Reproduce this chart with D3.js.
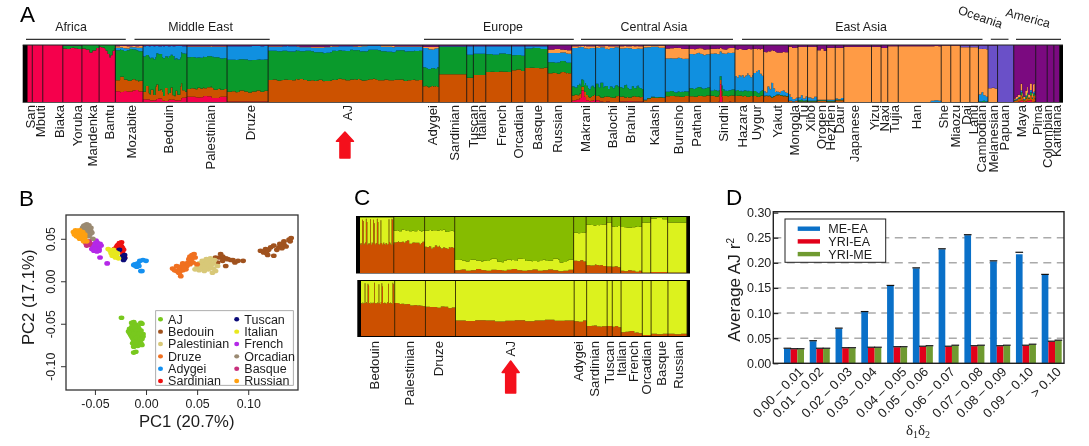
<!DOCTYPE html>
<html>
<head>
<meta charset="utf-8">
<script src="https://cdn.jsdelivr.net/npm/d3@7"></script>
<style>
html, body { margin: 0; padding: 0; background: #fff; }
svg { display: block; filter: blur(0.35px); }
text { font-family: "Liberation Sans", Arial, sans-serif; fill: #1c1c1c; }
</style>
</head>
<body>
<div id="chart"></div>
<script>
// ---------- panel A data: populations, sample counts, ancestry % per component ----------
var popsA = ["San","Mbuti","Biaka","Yoruba","Mandenka","Bantu","Mozabite",
    "Bedouin","Palestinian","Druze","AJ",
    "Adygei","Sardinian","Tuscan","Italian","French","Orcadian","Basque","Russian",
    "Makrani","Balochi","Brahui","Kalash","Burusho","Pathan","Sindhi",
    "Hazara","Uygur","Yakut","Mongola","Tu","Xibo","Oroqen","Hezhen","Daur","Japanese","Yizu","Naxi","Tujia","Han","She","Miaozu","Dai","Lahu","Cambodian",
    "Melanesian","Papuan","Maya","Pima","Colombian","Karitiana"];
var samplesA = [5,11,21,20,18,17,29, 46,42,43,162, 17,29,7,13,27,14,24,25,
    25,25,25,23,25,22,26, 19,11,26,10,10,10,10,9,9,29,10,7,11,45,10,10,10,9,10, 10,17,23,12,7,6];
var regionsA = ["Africa","Middle East","Europe","Central Asia","East Asia","Oceania","America"];

// one entry per population; a list holds values read across that population
var redA = [100,100,100,[95,94,96,95],[94,91,92,95,90],[97,96,95,93,90,84,78,82,90,94],[19,20,18,21,19],
    [5,3,6,2,4,3,7],[9,8,10,7,9],1, 0,
    0,0,0,0,0,0,0,0,
    [2,3,4,7,22,9,3,1,2,3],[3,1,0,1,0,0,0],1,0,0,0,[0,0,0,0,0,1,44,10,0,0,0,0,1,0,0,0],
    0,0,0,0,0,0,0,0,0,0,0,0,0,0,0,0,0,0,0,
    0,0, [0,0,1,2,0,1,2,3,0,1],0,0,0];
var brownA = [0,0,0,0,0,0,[19,30,21,18,20,17,19],
    [13,27,10,20,9,28,13,16,8,25,11,23,7,19,10,29,12,9],[13,15,14,17,15,13,16,18,14,15,12,14],[17,18,16,19,17,16,18,20,17,19],
    [38,39,37,38,40,38,37,39,41,38,37,39,38,40,37,38,39,38,40,39,37,38,39,41,38,37,38,39,37,38,40,38,39,37,38,36,38,39,37,38],
    [27,26,28,26,27],48,42,47,[52,53,52,54,53,52],[55,56,55],[59,60,59,58,60],[50,51,50,52,51,50],
    [9,8,7,9,6,8],[8,7,9,8,7,10],[8,7,6,9,8,7],[3,6,8,7,8,7],[10,11,10,9,11],[10,9,11,10,12],[10,9,11,10,9,11],
    [10,11,10,9,10],[10,9,10],[10,11,9,10,12,11,10,9],[2,1,2],1,1,2,1,3,0,0,0,0,0,0,0,0,0,0,
    0,0, [2,3,5,4,10,6,3,5,8,4,9,5,10,4],0,0,0];
var greenA = [0,0,0,[5,6,4,5,6],[6,8,14,10,5],[3,4,5,7,10,16,22,18,10,6],[53,52,54,53],
    [62,60,63,61,64,60],[54,53,55,54],[56,55,57,56],
    [50,51,49,50,52,50,51,49,50,52,49,51,50,49,51,50],
    [32,30,33,31,29,35],48,40,37,[31,30,32,31],[26,25,27],[34,35,33],[19,18,20,19,18],
    [15,12,18,14,11,16,13,17,12],[22,14,26,16,19,13,18,15,20,16],[16,14,22,15,13,18,14,20,15,13],1,[8,9,7,8,9,8],[14,13,15,16,13,14,15],[8,10,9,11,8,9,10],
    [9,8,9,10,8],[8,7,8],1,0,[2,3,1,2],1,1,1,1,0,0,0,0,0,0,0,0,0,[1,2,1],
    0,0, [1,1,1,2,5,1,1,3,4,1,5,2,4,1],0,0,0];
var blueA = [0,0,0,0,0,0,[4,5,3,4,6],
    [18,22,14,20,16,24,12],[18,19,17,18,20],[24,23,25,24],
    [7,8,9,7,6,8,10,7,8,6,9,7,8,9,6,8,7],
    [33,36,32,34],1,15,13,[14,15,13,14],[16,15,17],[4,3,5],[16,17,15,16],
    [65,66,62,64,63],[65,63,67,64,66],[66,64,67,65],[88,87,89],[59,60,58,59],[60,58,61,59,62],[60,62,59,61],
    [25,20,28,24,30,22,26,33,27,23,29],[30,35,42,28,22],[8,5,18,12,30,14,6,5,4,7,9,6,5],[12,6,4,3,5],[5,8,4,7],[6,4,7],1,2,[2,1,3],0,0,0,0,[0,0,0,0,0,0,0,0,0,2,3,2],0,0,0,0,[12,16,10,8],
    0,0, [1,1,1,1,3,1,1,2,2,1,4,1,3,1],0,0,0];
var orangeA = [0,0,0,0,0,0,[3,4,2,3],
    0,1,0, [1,0,1,2,1,0,1,0,2,1,1],
    [2,5,3],0,0,0,0,0,0,[6,7,5,6],
    [3,2,4,3],[3,2,5,3,2],[4,3,5,4],[3,2,4],[18,19,17,18],[9,8,10,9],[8,9,7,8],
    [45,47,44,46],[40,38,41],[68,69,67],[82,83,82],[88,87,89],[88,89,88],[87,88,86],[92,91,92],[89,90,89],[97,98,97],[95,96,95],[93,94,92],[98,97,98],[97,98,97],[98,98,97],[98,97,98],[96,97,96],[96,95,96],[80,78,81,80],
    [24,25,23],0, [2,4,6,3,12,5,4,8,10,5,12,7,13,6],0,0,0];
var slateA = [0,0,0,0,0,0,0,
    0,0,0, 0,
    0,0,0,0,0,0,0,0,
    0,0,0,0,0,0,0,
    0,0,0,0,0,0,0,0,0,0,0,0,0,0,0,0,3,3,6,
    74,100, 0,0,0,0];
var purpleA = [0,0,0,1,0,0,2,
    2,2,2, [2,3,2,1,2],
    3,2,2,2,2,2,2,[8,7,8,9],
    2,2,2,1,[6,5,7],[7,6,8],[6,7,5],
    [7,8,7],[6,7,6],[12,11,13,12],[3,5,4],3,3,[9,6,10],5,5,3,3,5,2,2,1,1,1,1,1,
    1,0, [90,88,86,80,68,84,90,76,72,86,68,82,66,88],100,100,100];

// ---------- panel B data: PC1, PC2 of each individual ----------
var pcNames = ["AJ","Bedouin","Palestinian","Druze","Adygei","Sardinian","Tuscan","Italian","French","Orcadian","Basque","Russian"];
var pcAJ = [[-0.024,-0.043],[-0.005,-0.049],[-0.004,-0.050],[-0.014,-0.049],[-0.012,-0.048],[-0.012,-0.052],[-0.010,-0.051],[-0.008,-0.053],[-0.014,-0.054],[-0.016,-0.056],[-0.013,-0.057],[-0.010,-0.056],[-0.007,-0.056],[-0.005,-0.058],[-0.017,-0.059],[-0.014,-0.060],[-0.011,-0.060],[-0.008,-0.060],[-0.005,-0.061],[-0.003,-0.062],[-0.015,-0.063],[-0.012,-0.064],[-0.009,-0.063],[-0.006,-0.064],[-0.003,-0.065],[-0.013,-0.067],[-0.010,-0.067],[-0.007,-0.067],[-0.004,-0.068],[-0.012,-0.070],[-0.009,-0.070],[-0.006,-0.071],[-0.013,-0.073],[-0.010,-0.073],[-0.007,-0.074],[-0.011,-0.076],[-0.008,-0.076],[-0.004,-0.075],[-0.010,-0.083],[-0.012,-0.084],[-0.016,-0.061],[-0.014,-0.065],[-0.011,-0.054],[-0.009,-0.058],[-0.006,-0.059],[-0.011,-0.069],[-0.008,-0.072],[-0.012,-0.062],[-0.007,-0.062],[-0.009,-0.066],[-0.006,-0.069],[-0.005,-0.073],[-0.012,-0.077]];
var pcBedouin = [[0.112,0.036],[0.115,0.034],[0.117,0.038],[0.120,0.037],[0.118,0.033],[0.122,0.040],[0.125,0.042],[0.128,0.037],[0.130,0.040],[0.131,0.044],[0.133,0.039],[0.135,0.043],[0.137,0.041],[0.135,0.047],[0.140,0.049],[0.142,0.051],[0.141,0.047],[0.125,0.030],[0.119,0.031],[0.072,0.028],[0.075,0.029],[0.073,0.032],[0.068,0.028],[0.078,0.027],[0.080,0.026],[0.083,0.025],[0.087,0.022],[0.090,0.024],[0.095,0.024],[0.085,0.025],[0.078,0.018],[0.070,0.022],[0.075,0.024]];
var pcPalestinian = [[0.048,0.014],[0.050,0.017],[0.052,0.013],[0.054,0.020],[0.056,0.016],[0.058,0.022],[0.060,0.018],[0.062,0.024],[0.064,0.020],[0.066,0.015],[0.063,0.027],[0.059,0.026],[0.055,0.024],[0.052,0.021],[0.068,0.012],[0.070,0.018],[0.065,0.010],[0.061,0.014],[0.057,0.012],[0.067,0.025],[0.056,0.019],[0.060,0.021],[0.063,0.018],[0.053,0.017],[0.058,0.015],[0.050,0.020],[0.066,0.021]];
var pcDruze = [[0.026,0.015],[0.028,0.013],[0.030,0.012],[0.032,0.010],[0.034,0.006],[0.030,0.018],[0.033,0.015],[0.035,0.018],[0.036,0.013],[0.038,0.020],[0.040,0.018],[0.041,0.022],[0.043,0.020],[0.044,0.024],[0.045,0.027],[0.047,0.032],[0.048,0.028],[0.046,0.022],[0.039,0.014],[0.042,0.026],[0.050,0.020],[0.036,0.021],[0.033,0.011],[0.037,0.016],[0.045,0.031],[0.043,0.029]];
var pcAdygei = [[-0.012,0.019],[-0.010,0.018],[-0.008,0.021],[-0.007,0.018],[-0.006,0.024],[-0.003,0.025],[-0.005,0.012],[-0.004,0.012],[-0.009,0.017],[-0.011,0.020],[0.000,0.024]];
var pcSardinian = [[-0.029,0.040],[-0.031,0.038],[-0.028,0.042],[-0.027,0.043],[-0.025,0.044],[-0.027,0.039],[-0.025,0.037],[-0.024,0.041],[-0.022,0.037],[-0.023,0.033],[-0.022,0.030],[-0.021,0.028],[-0.026,0.035],[-0.024,0.046],[-0.026,0.045],[-0.023,0.039]];
var pcTuscan = [[-0.026,0.037],[-0.022,0.029],[-0.021,0.027],[-0.022,0.025],[-0.023,0.029],[-0.021,0.031]];
var pcItalian = [[-0.037,0.038],[-0.035,0.036],[-0.034,0.033],[-0.032,0.037],[-0.031,0.031],[-0.029,0.029],[-0.030,0.034],[-0.028,0.033],[-0.033,0.030],[-0.027,0.027],[-0.032,0.034],[-0.030,0.028]];
var pcFrench = [[-0.054,0.043],[-0.052,0.040],[-0.050,0.044],[-0.048,0.046],[-0.047,0.041],[-0.049,0.038],[-0.051,0.036],[-0.046,0.038],[-0.044,0.042],[-0.053,0.038],[-0.048,0.035],[-0.045,0.044],[-0.045,0.028],[-0.038,0.021],[-0.050,0.041],[-0.047,0.044],[-0.052,0.043],[-0.049,0.048],[-0.046,0.036],[-0.050,0.038]];
var pcOrcadian = [[-0.062,0.063],[-0.060,0.066],[-0.058,0.067],[-0.056,0.066],[-0.060,0.061],[-0.058,0.062],[-0.056,0.060],[-0.054,0.059],[-0.057,0.056],[-0.055,0.055],[-0.053,0.057],[-0.059,0.058],[-0.052,0.050],[-0.061,0.065],[-0.057,0.064],[-0.054,0.063],[-0.056,0.053]];
var pcBasque = [[-0.059,0.045],[-0.056,0.047],[-0.058,0.042],[-0.055,0.045],[-0.056,0.043]];
var pcRussian = [[-0.071,0.058],[-0.069,0.060],[-0.067,0.059],[-0.065,0.060],[-0.070,0.055],[-0.068,0.056],[-0.066,0.055],[-0.064,0.057],[-0.062,0.058],[-0.064,0.053],[-0.062,0.054],[-0.060,0.052],[-0.063,0.050],[-0.060,0.049],[-0.058,0.047],[-0.061,0.047],[-0.066,0.052],[-0.068,0.053],[-0.065,0.050],[-0.062,0.051],[-0.069,0.057],[-0.060,0.055]];

// ---------- panel C data ----------
var popsC = ["Bedouin","Palestinian","Druze","AJ","Adygei","Sardinian","Tuscan","Italian","French","Orcadian","Basque","Russian"];
var samplesC = [46,42,41,162,17,28,7,12,29,12,23,26];
var brownC1 = [[52,50,53,95,92,50,52,54,98,90,50,52,51,53,96,50,54,52,95,88,52,50,53,97,90,51,50,52,94,53,50,52,54,51,50,53,52,50,51,96,55,52,50,98,95,50],
    [54,56,52,58,54,57,51,55,53,56,50,54],[47,45,49,42,46,48,44,47,43,46,42,40,45,47,44],
    [5,6,4,5,7,5,4,6,5,4,6,7,5,4,5,6,4,5,6,5,3,4,6],[22,21,23,20],[14,13,15,14,12],12,[11,12,10],[4,3,5,4,2,4],1,2,1];
var yellowC1 = [[46,48,45,4,6,48,46,44,2,8,48,46,47,45,3,48,44,46,4,10,46,48,45,2,8,47,48,46,5,45,48,46,44,47,48,45,46,48,47,3,43,46,48,2,4,48],
    [21,19,23,18,22,20,24,19],[29,31,27,32,28,30],
    [18,16,19,15,17,20,14,18,16,22,17,15,19,16,21,15,18],50,[72,70,74,71],80,[72,70,73],[78,76,80,77],[89,88,90],[95,96,95],[89,90,88]];
var greenC1 = [1,[24,23,25,24],[24,23,25],[77,76,78,77],[28,29,27],[14,15,13],10,[17,18,16],[18,19,17],10,[3,2,4],10];
var brownC2 = [[60,58,61,59,60,96,60,62,59,95,92,60,58,61,60,59,61,60,97,60,58,60,61,59,94,60,58,62,96,90,60,59,61,60,58,60,62,95,60,59,61,60,58,97,94,60],
    [60,58,59,56,57,55,56,54,55,53],[53,52,54,51,53,52,50,53],
    [28,27,29,28,26,28,29,27,28,30,27,28],[27,26,28],[18,19,17,18],18,[17,18,16],[7,8,9,6,5],2,[4,3,4],[4,3,4]];
var yellowC2 = [[40,42,39,41,40,4,40,38,41,5,8,40,42,39,40,41,39,40,3,40,42,40,39,41,6,40,42,38,4,10,40,41,39,40,42,40,38,5,40,41,39,40,42,3,6,40],
    [40,42,41,44,43,45],[47,48,46,49],[72,73,71],[73,74,72],[82,81,83],82,[83,82,84],[93,92,91],98,[96,97,96],[96,97,96]];

// ---------- panel D data ----------
var binLabels = ["0.00 – 0.01","0.01 – 0.02","0.02 – 0.03","0.03 – 0.04","0.04 – 0.05","0.05 – 0.06","0.06 – 0.07","0.07 – 0.08","0.08 – 0.09","0.09 – 0.10","> 0.10"];
var seriesNames = ["ME-EA","YRI-EA","YRI-ME"];
var meEa = [0.029,0.044,0.069,0.102,0.154,0.189,0.227,0.255,0.203,0.217,0.176];
var yriEa = [0.028,0.029,0.030,0.031,0.032,0.033,0.033,0.034,0.034,0.035,0.043];
var yriMe = [0.028,0.029,0.030,0.031,0.032,0.034,0.035,0.035,0.035,0.037,0.045];
var errMeEa = [0.001,0.001,0.001,0.001,0.001,0.001,0.001,0.001,0.001,0.004,0.001];
var yTicksD = [0,0.05,0.10,0.15,0.20,0.25,0.30];

// ---------- styles and layout ----------
var colorsA = {red:"#f5004c", brown:"#cc5200", green:"#0a9a2c", blue:"#1090e0", orange:"#ff9b45", slate:"#6a50c8", purple:"#7b0a80"};
var colorsC = {brown:"#cc5000", yellow:"#dcf21e", green:"#86bc00"};
var colorsB = ["#78c81e","#a0521e","#d8c878","#f07020","#1490f0","#ee1111","#0a0a78","#e8e81e","#b428e8","#9a8a72","#c8307c","#ffa010"];
var colorsD = ["#0a70c8","#e2001a","#6f9a30"];

// how far each rotated label sits from the middle of its population
var nudgeA = [0,2,6,5,1.5,2,2, 3.5,3.4,2.5,1.7, 0.7,1,3,1.4,2,-0.5,1,-3,
    1,4,-1,-0.6,0.7,-4,0, -2,-2.5,1,1,0,-2,-1,-1,-0.6,-4,-2.7,-0.5,0.7,-4,-3,-1,1,-1,-2, 0.7,-2,-3.3,-4.5,-3.3,-0.6];
var nudgeC = [-2.7,-0.5,-1.6,-4.3,-1.8,-2.4,0,4.5,1.5,0,2,1.3];
var nudgeD = [3,-3,0,-1,3,-1,0,2,0,1,3];
var spansA = [[26,125.8],[134.5,269.7],[424,573.8],[581,733],[742,982.5],[990.8,1008.5],[1016,1061]];
var titlesA = [[71,31,0],[200.5,31,0],[503,31,0],[654,31,0],[861,31,0],[979,21,19],[1027,22,15]];

var svg = d3.select("#chart").append("svg")
    .attr("width", 1089)
    .attr("height", 446);

svg.append("rect").attr("width", 1089).attr("height", 446).attr("fill", "#fff");

function panelLetter(txt, x, y) {
    svg.append("text").attr("x", x).attr("y", y)
        .attr("font-size", 22.5)
        .style("fill", "#000")
        .text(txt);
}
panelLetter("A", 20, 22);
panelLetter("B", 19, 206);
panelLetter("C", 354, 205);
panelLetter("D", 726, 205);

function valueAt(entry, j, n) {
    if (!Array.isArray(entry)) return entry;
    return entry[Math.floor(j * entry.length / n)];
}

// stacked ancestry bar, one column per sample
function structureBar(g, sizes, comps, colors, x, yTop, yBottom, divColor) {
    var keys = Object.keys(comps);
    var rows = [];
    var total = 0;
    sizes.forEach(function(n, p) {
        for (var j = 0; j < n; j++) {
            var row = {pos: total + j};
            keys.forEach(function(k) { row[k] = valueAt(comps[k][p], j, n); });
            rows.push(row);
        }
        total += n;
    });
    var end = Object.assign({}, rows[rows.length - 1], {pos: total});
    rows.push(end);

    var y = d3.scaleLinear().domain([0, 1]).range([yBottom, yTop]);
    var series = d3.stack().keys(keys).offset(d3.stackOffsetExpand)(rows);
    var area = d3.area()
        .x(function(d) { return x(d.data.pos); })
        .y0(function(d) { return y(d[0]); })
        .y1(function(d) { return y(d[1]); })
        .curve(d3.curveStepAfter);

    g.selectAll("path.comp").data(series).enter().append("path")
        .attr("class", "comp")
        .attr("fill", function(d) { return colors[d.key]; })
        .attr("d", area);

    // population dividers
    g.selectAll("line.div").data(d3.cumsum(sizes)).enter().append("line")
        .attr("class", "div")
        .attr("x1", function(d) { return x(d); })
        .attr("x2", function(d) { return x(d); })
        .attr("y1", yTop)
        .attr("y2", yBottom)
        .attr("stroke", divColor)
        .attr("stroke-opacity", 0.85)
        .attr("stroke-width", 1);
}

function popCenters(sizes, x) {
    var ends = d3.cumsum(sizes);
    return sizes.map(function(n, i) { return x(ends[i] - n / 2); });
}

function arrow(cx, yTop, yBottom) {
    var p = d3.path();
    var head = (yBottom - yTop) * 0.36;
    p.moveTo(cx, yTop);
    p.lineTo(cx + 8.5, yTop + head);
    p.lineTo(cx + 5, yTop + head);
    p.lineTo(cx + 5, yBottom);
    p.lineTo(cx - 5, yBottom);
    p.lineTo(cx - 5, yTop + head);
    p.lineTo(cx - 8.5, yTop + head);
    p.closePath();
    svg.append("path").attr("d", p.toString())
        .attr("fill", "#f4101c").attr("stroke", "#f4101c")
        .attr("stroke-width", 1.5).attr("stroke-linejoin", "round");
}

// ---------- A ----------
var xA = d3.scaleLinear().domain([0, d3.sum(samplesA)]).range([27.5, 1059.6]);
var gA = svg.append("g");
gA.append("rect").attr("x", 22.7).attr("y", 45).attr("width", 1040.3).attr("height", 57.3).attr("fill", "#000");
structureBar(gA, samplesA, {red:redA, brown:brownA, green:greenA, blue:blueA, orange:orangeA, slate:slateA, purple:purpleA}, colorsA, xA, 45, 102, "#151515");
gA.append("line").attr("x1", 22.7).attr("x2", 1063).attr("y1", 45).attr("y2", 45).attr("stroke", "#222").attr("stroke-width", 1);
gA.append("line").attr("x1", 22.7).attr("x2", 1063).attr("y1", 102.5).attr("y2", 102.5).attr("stroke", "#555").attr("stroke-width", 1);

var centersA = popCenters(samplesA, xA);
gA.selectAll("text.pop").data(popsA).enter().append("text")
    .attr("class", "pop")
    .attr("text-anchor", "end")
    .attr("font-size", 13.2)
    .attr("transform", function(d, i) { return "translate(" + (centersA[i] + nudgeA[i] + 5) + ",105) rotate(-90)"; })
    .text(function(d) { return d; });

regionsA.forEach(function(name, i) {
    svg.append("line").attr("x1", spansA[i][0]).attr("x2", spansA[i][1])
        .attr("y1", 39.3).attr("y2", 39.3).attr("stroke", "#333").attr("stroke-width", 1.2);
    svg.append("text")
        .attr("text-anchor", "middle")
        .attr("font-size", 12.4)
        .attr("transform", "translate(" + titlesA[i][0] + "," + titlesA[i][1] + ") rotate(" + titlesA[i][2] + ")")
        .text(name);
});
arrow(centersA[10] - 0.5, 132, 158);

// ---------- B ----------
var xB = d3.scaleLinear().domain([-0.0783, 0.1487]).range([66, 298]);
var yB = d3.scaleLinear().domain([-0.128, 0.078]).range([390, 215]);
var gB = svg.append("g");
var pcAll = [pcAJ,pcBedouin,pcPalestinian,pcDruze,pcAdygei,pcSardinian,pcTuscan,pcItalian,pcFrench,pcOrcadian,pcBasque,pcRussian];

// drawn so that Tuscan sits over Sardinian and Russian over Orcadian
pcAll.forEach(function(points, i) {
    gB.selectAll("ellipse.p" + i).data(points).enter().append("ellipse")
        .attr("class", "p" + i)
        .attr("cx", function(d) { return xB(d[0]); })
        .attr("cy", function(d) { return yB(d[1]); })
        .attr("rx", 2.9)
        .attr("ry", 2.3)
        .attr("fill", colorsB[i]);
});

gB.append("rect").attr("x", 66).attr("y", 215).attr("width", 232).attr("height", 175)
    .attr("fill", "none").attr("stroke", "#333").attr("stroke-width", 1.3);

var xAxisB = gB.append("g").attr("transform", "translate(0,390)")
    .call(d3.axisBottom(xB).tickValues([-0.05,0,0.05,0.10]).tickSize(5).tickPadding(4)
        .tickFormat(function(d) { return d.toFixed(2); }));
var yAxisB = gB.append("g").attr("transform", "translate(66,0)")
    .call(d3.axisLeft(yB).tickValues([-0.10,-0.05,0,0.05]).tickSize(5)
        .tickFormat(function(d) { return d.toFixed(2); }));
yAxisB.selectAll("text")
    .attr("transform", "rotate(-90)")
    .attr("x", 0).attr("y", -11).attr("dy", 0)
    .attr("text-anchor", "middle");
[xAxisB, yAxisB].forEach(function(a) {
    a.select(".domain").remove();
    a.selectAll("line").attr("stroke", "#333");
    a.selectAll("text").attr("font-size", 12.4).attr("font-family", "Liberation Sans");
});

gB.append("text").attr("x", 186.7).attr("y", 427).attr("text-anchor", "middle").attr("font-size", 16.7).text("PC1 (20.7%)");
gB.append("text").attr("text-anchor", "middle").attr("font-size", 16.7)
    .attr("transform", "translate(34,297.3) rotate(-90)").text("PC2 (17.1%)");

gB.append("rect").attr("x", 155.7).attr("y", 310.7).attr("width", 137.6).attr("height", 74.6)
    .attr("fill", "#fff").attr("stroke", "#999").attr("stroke-width", 0.8);
var legendB = gB.selectAll("g.leg").data(pcNames).enter().append("g")
    .attr("class", "leg")
    .attr("transform", function(d, i) {
        return "translate(" + (i < 6 ? 160.5 : 236.7) + "," + (319.3 + (i % 6) * 12.35) + ")";
    });
legendB.append("ellipse").attr("rx", 2.5).attr("ry", 2.2).attr("fill", function(d, i) { return colorsB[i]; });
legendB.append("text").attr("x", 7.6).attr("y", 4.4).attr("font-size", 12.5).text(function(d) { return d; });

// ---------- C ----------
var xC1 = d3.scaleLinear().domain([0, d3.sum(samplesC)]).range([360, 686.7]);
var xC2 = d3.scaleLinear().domain([0, d3.sum(samplesC)]).range([361, 687]);
var gC = svg.append("g");
gC.append("rect").attr("x", 356).attr("y", 216).attr("width", 334).attr("height", 57.5).attr("fill", "#000");
gC.append("rect").attr("x", 357.3).attr("y", 280).attr("width", 332.7).attr("height", 57).attr("fill", "#000");
structureBar(gC.append("g"), samplesC, {brown:brownC1, yellow:yellowC1, green:greenC1}, colorsC, xC1, 217, 273, "#2a2000");
structureBar(gC.append("g"), samplesC, {brown:brownC2, yellow:yellowC2}, colorsC, xC2, 281, 336, "#2a2000");

var centersC = popCenters(samplesC, xC1);
gC.selectAll("text.pop").data(popsC).enter().append("text")
    .attr("class", "pop")
    .attr("text-anchor", "end")
    .attr("font-size", 13.2)
    .attr("transform", function(d, i) { return "translate(" + (centersC[i] + nudgeC[i] + 5) + ",341) rotate(-90)"; })
    .text(function(d) { return d; });
arrow(centersC[3] - 3.5, 361, 393);

// ---------- D ----------
var x0D = d3.scaleBand().domain(binLabels).range([784, 1061.7]).paddingInner(0.224).paddingOuter(0);
var x1D = d3.scaleBand().domain(seriesNames).range([0, x0D.bandwidth()]);
var yD = d3.scaleLinear().domain([0, 0.30]).range([363.3, 212.6]);
var gD = svg.append("g");
var seriesD = [meEa, yriEa, yriMe];

gD.selectAll("line.grid").data(yTicksD.slice(1, 6)).enter().append("line")
    .attr("class", "grid")
    .attr("x1", 773.3).attr("x2", 1064)
    .attr("y1", function(d) { return yD(d); })
    .attr("y2", function(d) { return yD(d); })
    .attr("stroke", "#aaa").attr("stroke-width", 1.5).attr("stroke-dasharray", "8,5.5");

seriesNames.forEach(function(name, s) {
    var g = gD.append("g");
    g.selectAll("rect").data(seriesD[s]).enter().append("rect")
        .attr("x", function(d, i) { return x0D(binLabels[i]) + x1D(name); })
        .attr("width", x1D.bandwidth())
        .attr("y", function(d) { return yD(d); })
        .attr("height", function(d) { return yD(0) - yD(d); })
        .attr("fill", colorsD[s]);
    g.selectAll("line").data(seriesD[s]).enter().append("line")
        .attr("x1", function(d, i) { return x0D(binLabels[i]) + x1D(name) - 0.5; })
        .attr("x2", function(d, i) { return x0D(binLabels[i]) + x1D(name) + x1D.bandwidth() + 0.5; })
        .attr("y1", function(d, i) { return yD(d + (s === 0 ? errMeEa[i] : 0.001)); })
        .attr("y2", function(d, i) { return yD(d + (s === 0 ? errMeEa[i] : 0.001)); })
        .attr("stroke", "#111").attr("stroke-width", 1.2);
});

gD.append("rect").attr("x", 773.3).attr("y", 211.7).attr("width", 290.7).attr("height", 151.6)
    .attr("fill", "none").attr("stroke", "#222").attr("stroke-width", 1.4);

var yAxisD = gD.append("g").attr("transform", "translate(773.3,0)")
    .call(d3.axisLeft(yD).tickValues(yTicksD).tickSize(-5).tickPadding(2)
        .tickFormat(function(d) { return d.toFixed(2); }));
yAxisD.select(".domain").remove();
yAxisD.selectAll("line").attr("stroke", "#222").attr("stroke-width", 1.2);
yAxisD.selectAll("text").attr("font-size", 12.5).attr("font-family", "Liberation Sans");

var xAxisD = gD.append("g").attr("transform", "translate(0,363.3)")
    .call(d3.axisBottom(x0D).tickSize(0));
xAxisD.select(".domain").remove();
xAxisD.selectAll("text")
    .attr("font-size", 13).attr("font-family", "Liberation Sans")
    .attr("text-anchor", "end")
    .attr("x", 0).attr("y", 0).attr("dy", "0.35em")
    .attr("transform", function(d, i) { return "translate(" + (nudgeD[i] + 4) + ",6) rotate(-45)"; });

var titleD = gD.append("text").attr("font-size", 17.2)
    .attr("transform", "translate(740,341.7) rotate(-90)");
titleD.append("tspan").text("Average AJ  r");
titleD.append("tspan").attr("font-size", 10).attr("dy", -6).text("2");

var deltaD = gD.append("text").attr("x", 918).attr("y", 435).attr("text-anchor", "middle")
    .attr("font-size", 15).style("font-family", "Liberation Serif");
deltaD.append("tspan").text("δ");
deltaD.append("tspan").attr("font-size", 10).attr("dy", 3).text("1");
deltaD.append("tspan").attr("dy", -3).text("δ");
deltaD.append("tspan").attr("font-size", 10).attr("dy", 3).text("2");

gD.append("rect").attr("x", 785).attr("y", 219).attr("width", 100.7).attr("height", 43.3)
    .attr("fill", "#fff").attr("stroke", "#222").attr("stroke-width", 1);
var legendD = gD.selectAll("g.leg").data(seriesNames).enter().append("g")
    .attr("class", "leg")
    .attr("transform", function(d, i) { return "translate(797.7," + (228.7 + i * 12.7) + ")"; });
legendD.append("rect").attr("y", -2.2).attr("width", 22.3).attr("height", 4.4).attr("fill", function(d, i) { return colorsD[i]; });
legendD.append("text").attr("x", 30.6).attr("y", 4.5).attr("font-size", 12.5).text(function(d) { return d; });
</script>
</body>
</html>
